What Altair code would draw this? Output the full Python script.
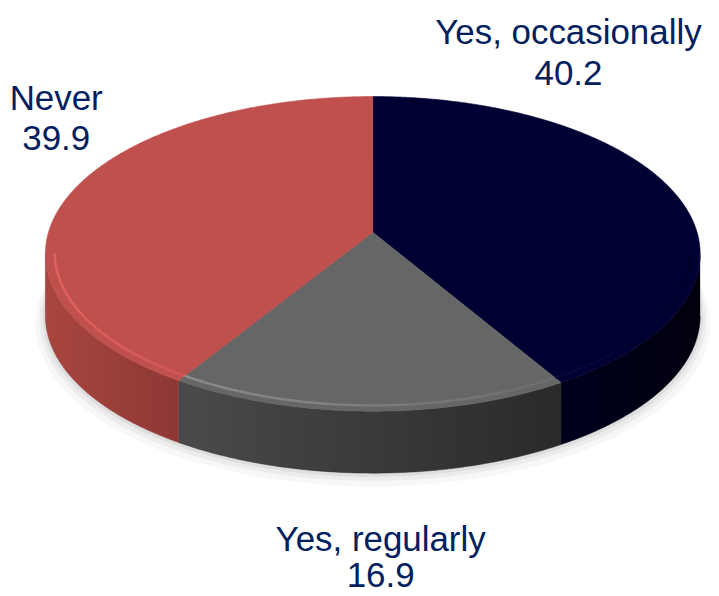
import math
import altair as alt
import pandas as pd

# ---- data ----
categories = ["Yes, occasionally", "Yes, regularly", "Never"]
values = [40.2, 16.9, 39.9]
value_labels = ["40.2", "16.9", "39.9"]

# ---- styles ----
top_colors = ["#000033", "#666666", "#C0504D"]
side_left = ["#00001E", "#4A4A4A", "#A8463F"]
side_right = ["#00000D", "#2A2A2A", "#8E3835"]
rim_left = ["#0A0A3C", "#959595", "#EC6661"]
rim_right = ["#000025", "#6E6E6E", "#D35853"]
text_color = "#002060"

# ---- layout (page pixel units) ----
CX, CY = 379.0, 231.0      # projected centre of the pie
A, B, K = 329.8, 157.0, 0.1375  # horizontal / vertical radius, perspective
DEPTH = 63.0
label_pos = {
    "Yes, occasionally": (578, 40, 81),
    "Yes, regularly": (387, 555, 592),
    "Never": (57, 107, 147),
}
W, H = 711, 588


def proj(theta, r=1.0, dy=0.0):
    t = math.radians(theta)
    X, Y = r * math.sin(t), r * math.cos(t)
    w = 1 + K * Y
    return CX + A * X / w, CY - B * Y / w + dy


def arc(a0, a1, r=1.0, dy=0.0, step=0.5):
    n = max(2, int(abs(a1 - a0) / step) + 1)
    return [proj(a0 + (a1 - a0) * k / (n - 1), r, dy) for k in range(n)]


def frame(pts):
    return pd.DataFrame({"x": [p[0] for p in pts], "y": [p[1] for p in pts],
                         "i": list(range(len(pts)))})


def hgrad(c0, c1):
    return alt.LinearGradient(
        gradient="linear", x1=0, x2=1, y1=0, y2=0,
        stops=[alt.GradientStop(color=c0, offset=0),
               alt.GradientStop(color=c1, offset=1)])


total = sum(values)
bounds = []
acc = 0.0
for v in values:
    a0 = 360 * acc / total
    acc += v
    bounds.append((a0, 360 * acc / total))

front0 = math.degrees(math.acos(-K))
front1 = 360 - front0

xs = alt.Scale(domain=[8, 8 + W], nice=False, zero=False)
ys = alt.Scale(domain=[8 + H, 8], nice=False, zero=False)


def enc(ch):
    return ch.encode(x=alt.X("x:Q", scale=xs, axis=None),
                     y=alt.Y("y:Q", scale=ys, axis=None),
                     order="i:Q")


layers = []

# soft shadow under the pie
for r, dy, op in [(1.03, DEPTH + 7, 0.03), (1.018, DEPTH + 4, 0.045), (1.008, DEPTH + 2, 0.06)]:
    pts = arc(0, 360, r, dy, step=1)
    layers.append(enc(alt.Chart(frame(pts)).mark_line(
        fill="#000000", fillOpacity=op, strokeOpacity=0, interpolate="linear")))

# side walls
for k in range(len(categories)):
    a0, a1 = bounds[k]
    s0, s1 = max(a0, front0), min(a1, front1)
    if s1 <= s0:
        continue
    pts = arc(s0, s1) + arc(s1, s0, dy=DEPTH)
    layers.append(enc(alt.Chart(frame(pts)).mark_line(
        fill=hgrad(side_left[k], side_right[k]), stroke=side_right[k],
        strokeWidth=0.5, interpolate="linear")))

# top faces
for k in range(len(categories)):
    a0, a1 = bounds[k]
    pts = [proj(0, 0)] + arc(a0, a1) + [proj(0, 0)]
    layers.append(enc(alt.Chart(frame(pts)).mark_line(
        fill=top_colors[k], stroke=top_colors[k], strokeWidth=0.6,
        interpolate="linear")))

# bevel highlight on the front rim
for k in range(len(categories)):
    a0, a1 = bounds[k]
    s0, s1 = max(a0, front0), min(a1, front1)
    if s1 <= s0:
        continue
    pts = arc(s0, s1, r=0.972)
    layers.append(enc(alt.Chart(frame(pts)).mark_line(
        stroke=hgrad(rim_left[k], rim_right[k]), strokeWidth=2.5,
        strokeOpacity=0.8, interpolate="monotone")))

# labels
rows = []
for c, lab in zip(categories, value_labels):
    lx, ly1, ly2 = label_pos[c]
    rows.append({"x": lx, "y": ly1, "t": c})
    rows.append({"x": lx, "y": ly2, "t": lab})
text = alt.Chart(pd.DataFrame(rows)).mark_text(
    font="Liberation Sans", fontSize=35.5, color=text_color,
    align="center", baseline="alphabetic").encode(
    x=alt.X("x:Q", scale=xs, axis=None),
    y=alt.Y("y:Q", scale=ys, axis=None),
    text="t:N")
layers.append(text)

chart = alt.layer(*layers).properties(
    width=W, height=H, padding=0, background="white"
).configure_view(stroke=None)

chart.save("out.html", embed_options={"renderer": "svg", "actions": False})
